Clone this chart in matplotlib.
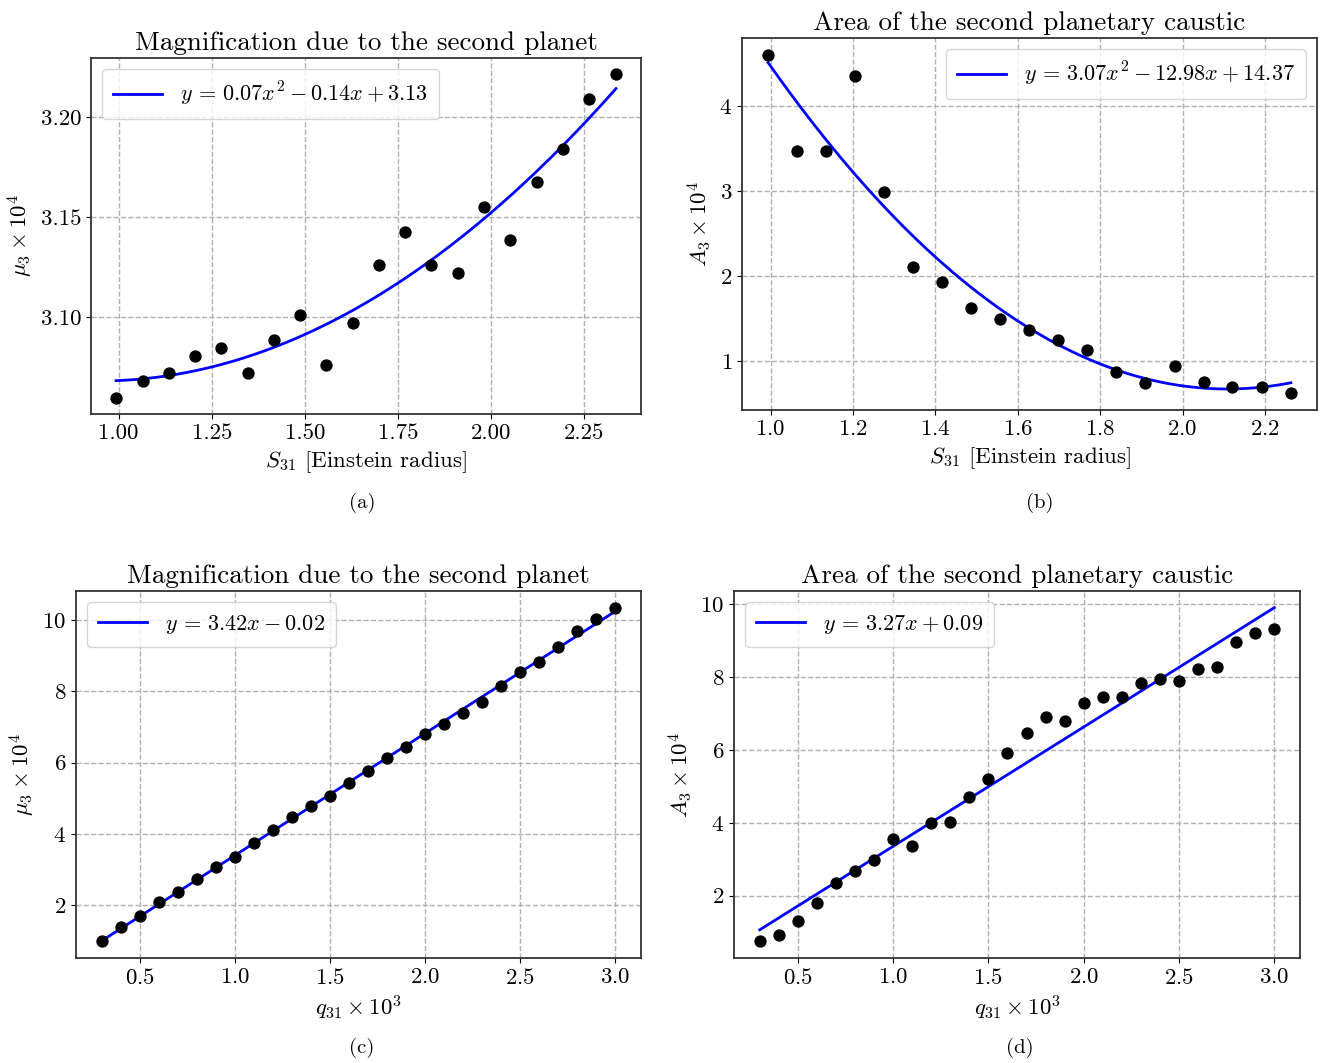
import numpy as np
import matplotlib
matplotlib.use("Agg")
import matplotlib.pyplot as plt
from matplotlib.ticker import MultipleLocator, FormatStrFormatter

plt.rcParams['font.family'] = 'cmr10'
plt.rcParams['mathtext.fontset'] = 'cm'
plt.rcParams['axes.formatter.use_mathtext'] = True
plt.rcParams['axes.unicode_minus'] = False

# separation runs (panels a, b)
sep_a = [0.993, 1.065, 1.134, 1.204, 1.275, 1.346, 1.417, 1.487, 1.557, 1.629,
         1.699, 1.769, 1.839, 1.911, 1.982, 2.051, 2.123, 2.193, 2.262, 2.335]
mag_a = [3.0597, 3.0680, 3.0722, 3.0805, 3.0847, 3.0722, 3.0887, 3.1012, 3.0762, 3.0970,
         3.1262, 3.1427, 3.1260, 3.1218, 3.1550, 3.1383, 3.1675, 3.1840, 3.2090, 3.2213]

sep_b = [0.994, 1.064, 1.135, 1.204, 1.275, 1.346, 1.416, 1.487, 1.558, 1.628,
         1.697, 1.768, 1.839, 1.910, 1.981, 2.051, 2.121, 2.193, 2.263]
area_b = [4.600, 3.476, 3.476, 4.349, 2.986, 2.112, 1.928, 1.619, 1.494, 1.368,
          1.247, 1.125, 0.875, 0.745, 0.937, 0.749, 0.691, 0.691, 0.624]

# mass ratio runs (panels c, d)
q_vals = [0.3, 0.4, 0.5, 0.6, 0.7, 0.8, 0.9, 1.0, 1.1, 1.2, 1.3, 1.4, 1.5, 1.6,
          1.7, 1.8, 1.9, 2.0, 2.1, 2.2, 2.3, 2.4, 2.5, 2.6, 2.7, 2.8, 2.9, 3.0]
mag_c = [0.98, 1.37, 1.70, 2.09, 2.36, 2.73, 3.08, 3.36, 3.75, 4.11, 4.47, 4.77, 5.05, 5.42,
         5.76, 6.13, 6.44, 6.80, 7.09, 7.40, 7.71, 8.16, 8.53, 8.82, 9.24, 9.69, 10.03, 10.35]
area_d = [0.75, 0.93, 1.30, 1.81, 2.36, 2.67, 2.97, 3.55, 3.36, 3.98, 4.03, 4.71, 5.21, 5.90,
          6.45, 6.90, 6.78, 7.27, 7.46, 7.46, 7.83, 7.95, 7.89, 8.21, 8.26, 8.96, 9.20, 9.32]

W, H = 1320, 1063
fig = plt.figure(figsize=(W / 100, H / 100), dpi=100)


def px_axes(x0, y0, x1, y1):
    # axes box given in pixel coords (top-left origin)
    return fig.add_axes([x0 / W, 1 - y1 / H, (x1 - x0) / W, (y1 - y0) / H])


def panel(ax, x, y, deg, label, title, xlabel, ylabel, loc):
    x = np.array(x)
    coef = np.polyfit(x, y, deg)
    xs = np.linspace(x.min(), x.max(), 200)
    ax.plot(xs, np.polyval(coef, xs), color='blue', lw=2, label=label, zorder=3)
    ax.scatter(x, y, s=62, color='black', zorder=4)
    ax.set_title(title, fontsize=19.5)
    ax.set_xlabel(xlabel, fontsize=16.5)
    ax.set_ylabel(ylabel, fontsize=16.5)
    ax.tick_params(labelsize=16.5)
    ax.grid(True, ls='--', color='#b0b0b0', lw=1)
    ax.set_axisbelow(True)
    for sp in ax.spines.values():
        sp.set_color('#333333')
        sp.set_linewidth(1.3)
    ax.legend(loc=loc, fontsize=16, handlelength=2.2, borderpad=0.5)


ax_a = px_axes(91, 58, 641, 414)
panel(ax_a, sep_a, mag_a, 2, r'$y \,=\, 0.07x^2 - 0.14x + 3.13$',
      'Magnification due to the second planet',
      r'$S_{31}$ [Einstein radius]', r'$\mu_3 \times 10^4$', 'upper left')
ax_a.xaxis.set_major_locator(MultipleLocator(0.25))
ax_a.yaxis.set_major_locator(MultipleLocator(0.05))
ax_a.xaxis.set_major_formatter(FormatStrFormatter('%.2f'))
ax_a.yaxis.set_major_formatter(FormatStrFormatter('%.2f'))

ax_b = px_axes(742, 38, 1317, 410)
panel(ax_b, sep_b, area_b, 2, r'$y \,=\, 3.07x^2 - 12.98x + 14.37$',
      'Area of the second planetary caustic',
      r'$S_{31}$ [Einstein radius]', r'$A_3 \times 10^4$', 'upper right')

ax_c = px_axes(76, 591, 641, 958)
panel(ax_c, q_vals, mag_c, 1, r'$y \,=\, 3.42x - 0.02$',
      'Magnification due to the second planet',
      r'$q_{31} \times 10^3$', r'$\mu_3 \times 10^4$', 'upper left')

ax_d = px_axes(734, 591, 1300, 958)
panel(ax_d, q_vals, area_d, 1, r'$y \,=\, 3.27x + 0.09$',
      'Area of the second planetary caustic',
      r'$q_{31} \times 10^3$', r'$A_3 \times 10^4$', 'upper left')

for lab, cx, cy in [('(a)', 362, 503), ('(b)', 1040, 503), ('(c)', 362, 1048), ('(d)', 1020, 1048)]:
    fig.text(cx / W, 1 - cy / H, lab, ha='center', va='center', fontsize=15)

fig.savefig('out.png', dpi=100)
